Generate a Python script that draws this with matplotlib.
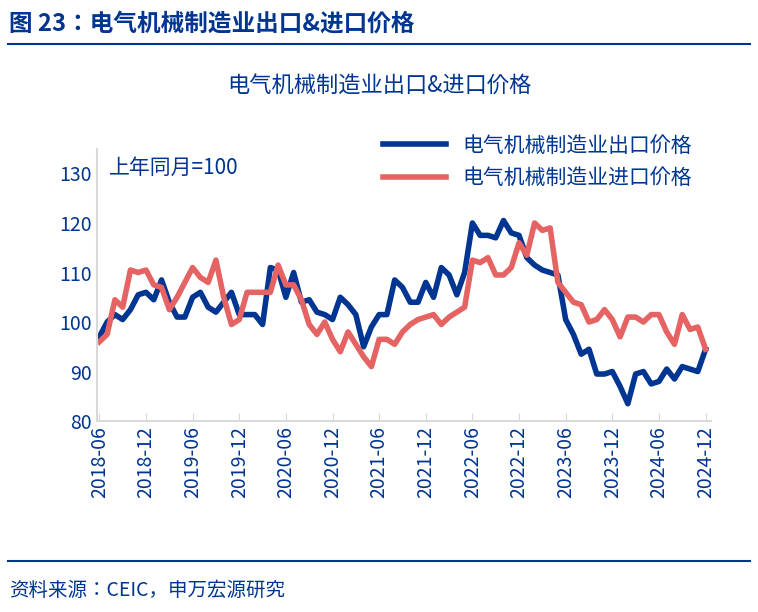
import numpy as np
import matplotlib.pyplot as plt
from matplotlib import font_manager

names = {f.name for f in font_manager.fontManager.ttflist}
cjk = [n for n in ['Noto Sans CJK SC', 'Noto Sans CJK JP', 'Noto Sans CJK TC', 'Noto Sans CJK KR'] if n in names]
plt.rcParams['font.family'] = cjk + ['DejaVu Sans']

months = [f"{y}-{m:02d}" for y in range(2018, 2025) for m in range(1, 13)][5:]

export_price = [97, 100, 101.5, 100.5, 102.5, 105.5, 106,
                104.5, 108.5, 104, 101, 101, 105, 106, 103, 102, 104, 106, 101.5,
                101.5, 101.5, 99.5, 111, 110.5, 105, 110, 104, 104.5, 102, 101.5, 100.5,
                105, 103.5, 101.5, 95, 99, 101.5, 101.5, 108.5, 107, 104, 104, 108,
                105, 111, 109.5, 105.5, 110, 120, 117.5, 117.5, 117, 120.5, 118, 117.5,
                113, 111.5, 110.5, 110, 109.5, 100.5, 97.5, 93.5, 94.5, 89.5, 89.5, 90,
                87, 83.5, 89.5, 90, 87.5, 88, 90.5, 88.5, 91, 90.5, 90, 94.5]
import_price = [96, 97.5, 104.5, 103, 110.5, 110, 110.5,
                107.5, 107, 102.5, 105, 108, 111, 109, 108, 112.5, 105, 99.5, 100.5,
                106, 106, 106, 106, 111.5, 107.5, 107.5, 104.5, 99.5, 97.5, 100, 96.5,
                94, 98, 95.5, 93, 91, 96.5, 96.5, 95.5, 98, 99.5, 100.5, 101,
                101.5, 99.5, 101, 102, 103, 112.5, 112, 113, 109.5, 109.5, 111, 116,
                113.5, 120, 118.5, 119, 108, 106, 104, 103.5, 100, 100.5, 102.5, 100.5,
                97, 101, 101, 100, 101.5, 101.5, 98, 95.5, 101.5, 98.5, 99, 94.5]

navy = '#003591'
red = '#e56363'
x = np.arange(len(months))

fig = plt.figure(figsize=(7.58, 6.12), dpi=100)
fig.text(0.012, 0.962, "图 23：电气机械制造业出口&进口价格", fontsize=17,
         fontweight='bold', color=navy, va='center')
fig.add_artist(plt.Line2D([0.01, 0.99], [0.928, 0.928], color=navy, lw=1.5))
fig.add_artist(plt.Line2D([0.01, 0.99], [0.083, 0.083], color=navy, lw=1.5))
fig.text(0.012, 0.035, "资料来源：CEIC，申万宏源研究", fontsize=14, color=navy, va='center')

ax = fig.add_axes([0.128, 0.312, 0.81, 0.445])
ax.plot(x, export_price, color=navy, lw=4, label="电气机械制造业出口价格")
ax.plot(x, import_price, color=red, lw=4, label="电气机械制造业进口价格")
ax.set_xlim(-0.3, len(x) - 0.3)
ax.set_ylim(80, 135)
ax.set_yticks([80, 90, 100, 110, 120, 130])
ax.set_xticks(x[::6])
ax.set_xticklabels(months[::6], rotation=90)
ax.tick_params(colors=navy, labelsize=14, length=0)
ax.tick_params(axis='x', length=6, color='#d9d9d9', direction='in')
for s in ['top', 'right']:
    ax.spines[s].set_visible(False)
for s in ['left', 'bottom']:
    ax.spines[s].set_color('#d9d9d9')
    ax.spines[s].set_linewidth(1.5)
ax.text(0.02, 0.93, "上年同月=100", transform=ax.transAxes, fontsize=15, color=navy, va='center')
fig.text(0.5, 0.86, "电气机械制造业出口&进口价格", fontsize=16, color=navy, ha='center', va='center')
leg = ax.legend(loc='upper right', bbox_to_anchor=(1.0, 1.12), frameon=False, fontsize=15,
                handlelength=3, labelcolor=navy)
fig.savefig("out.png", dpi=100)
